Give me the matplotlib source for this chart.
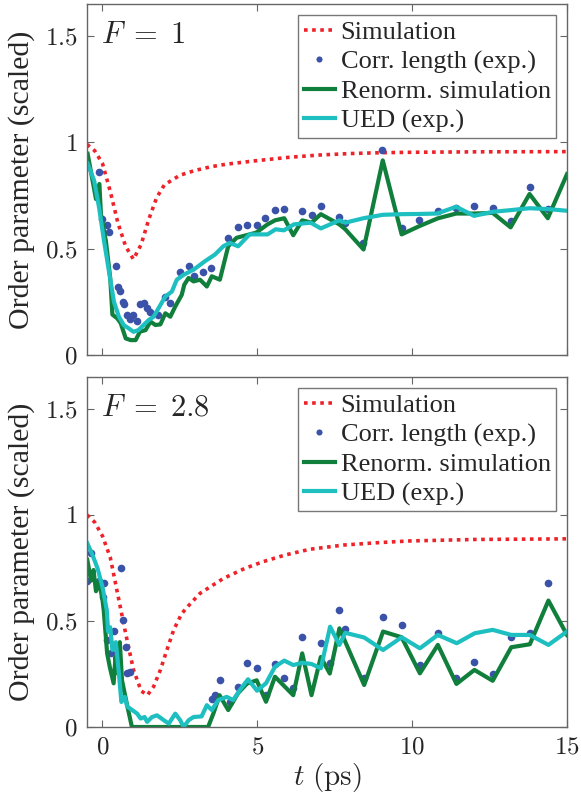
import matplotlib
matplotlib.use("Agg")
import matplotlib.pyplot as plt

plt.rcParams['mathtext.fontset'] = 'cm'
plt.rcParams['font.family'] = ['Liberation Serif', 'DejaVu Serif']

# ---------------- Panel F = 1 ----------------
sim1_t = [-0.5, -0.25, 0.0, 0.25, 0.5, 0.75, 1.0, 1.25, 1.5, 1.75, 2.0, 2.5, 3.0, 3.5, 4.0,
          5.0, 6.0, 7.0, 8.0, 9.0, 10.0, 12.0, 15.0]
sim1_y = [0.99, 0.96, 0.90, 0.77, 0.62, 0.51, 0.45, 0.52, 0.64, 0.74, 0.80, 0.845, 0.868, 0.885,
          0.897, 0.914, 0.929, 0.940, 0.947, 0.951, 0.953, 0.955, 0.956]

corr1_t = [-0.1, 0.0, 0.15, 0.2, 0.44, 0.5, 0.58, 0.65, 0.7, 0.8, 0.88, 0.98, 1.1, 1.2, 1.35,
           1.45, 1.55, 1.78, 2.03, 2.17, 2.49, 2.78, 2.96, 3.24, 3.52, 4.06, 4.38, 4.67,
           4.98, 5.26, 5.57, 5.87, 6.45, 6.75, 7.05, 7.65, 7.84, 8.41, 9.03, 9.68, 10.22,
           10.82, 11.42, 12.0, 12.6, 13.18, 13.79, 14.38]
corr1_y = [0.86, 0.64, 0.61, 0.58, 0.42, 0.32, 0.30, 0.25, 0.24, 0.19, 0.17, 0.19, 0.16, 0.24,
           0.245, 0.22, 0.20, 0.19, 0.275, 0.245, 0.39, 0.42, 0.37, 0.39, 0.41, 0.55, 0.60, 0.61,
           0.611, 0.643, 0.683, 0.687, 0.676, 0.66, 0.70, 0.65, 0.622, 0.525, 0.962, 0.597,
           0.635, 0.675, 0.69, 0.70, 0.692, 0.63, 0.79, 0.685]

ren1_t = [-0.48, -0.21, -0.1, -0.05, 0.11, 0.25, 0.32, 0.48, 0.59, 0.75, 0.91, 1.07, 1.21, 1.39,
          1.55, 1.71, 1.87, 2.03, 2.19, 2.35, 2.56, 2.64, 2.78, 2.94, 3.15, 3.37, 3.53, 3.79,
          4.06, 4.33, 4.75, 4.96, 5.33, 5.57, 5.87, 6.16, 6.45, 6.75, 7.05, 7.65, 7.84, 8.43,
          9.05, 9.66, 10.22, 10.82, 11.42, 12.0, 12.6, 13.18, 13.79, 14.38, 15.0]
ren1_y = [0.946, 0.733, 0.804, 0.662, 0.536, 0.362, 0.19, 0.172, 0.149, 0.078, 0.07, 0.07, 0.11,
          0.117, 0.157, 0.141, 0.144, 0.196, 0.18, 0.228, 0.283, 0.33, 0.362, 0.346, 0.354,
          0.322, 0.37, 0.354, 0.511, 0.551, 0.567, 0.575, 0.614, 0.633, 0.643, 0.563, 0.633,
          0.622, 0.662, 0.614, 0.591, 0.496, 0.915, 0.567, 0.605, 0.642, 0.665, 0.665, 0.668,
          0.60, 0.757, 0.643, 0.85]

ued1_t = [-0.48, -0.27, -0.11, 0.05, 0.21, 0.37, 0.53, 0.69, 0.85, 1.0, 1.16, 1.32, 1.49, 1.65,
          1.81, 2.03, 2.24, 2.4, 2.62, 2.94, 3.31, 3.63, 3.9, 4.11, 4.38, 4.75, 5.01, 5.33,
          5.59, 5.86, 6.18, 6.72, 7.05, 7.65, 7.84, 8.43, 9.05, 9.66, 10.22, 10.81, 11.42,
          12.0, 12.6, 13.18, 13.79, 14.38, 15.0]
ued1_y = [0.90, 0.82, 0.693, 0.536, 0.393, 0.25, 0.18, 0.14, 0.125, 0.109, 0.117, 0.14, 0.164,
          0.18, 0.22, 0.275, 0.298, 0.354, 0.377, 0.401, 0.441, 0.472, 0.511, 0.527, 0.511,
          0.567, 0.567, 0.567, 0.591, 0.586, 0.614, 0.622, 0.595, 0.633, 0.622, 0.643, 0.659,
          0.662, 0.663, 0.665, 0.697, 0.654, 0.673, 0.681, 0.69, 0.686, 0.678]

# ---------------- Panel F = 2.8 ----------------
sim2_t = [-0.5, -0.25, 0.0, 0.25, 0.5, 0.75, 1.0, 1.25, 1.45, 1.65, 1.87, 2.08, 2.3, 2.56,
          2.83, 3.15, 3.47, 3.9, 4.6, 5.2, 5.9, 6.7, 7.8, 8.9, 9.9, 12.0, 15.0]
sim2_y = [1.0, 0.965, 0.90, 0.80, 0.62, 0.44, 0.27, 0.17, 0.15, 0.19, 0.269, 0.363, 0.458,
          0.535, 0.58, 0.63, 0.66, 0.70, 0.748, 0.78, 0.811, 0.838, 0.858, 0.869, 0.877,
          0.884, 0.887]

corr2_t = [-0.49, -0.38, -0.12, 0.02, 0.06, 0.15, 0.29, 0.36, 0.60, 0.66, 0.77, 0.80, 0.90,
           3.53, 3.63, 3.79, 4.11, 4.38, 4.67, 4.98, 5.28, 5.57, 5.87, 6.16, 6.45, 7.05, 7.34,
           7.65, 7.84, 8.43, 9.05, 9.66, 10.25, 10.83, 11.42, 12.0, 12.6, 13.2, 13.8, 14.39]
corr2_y = [0.69, 0.82, 0.69, 0.615, 0.68, 0.41, 0.348, 0.454, 0.748, 0.505, 0.379, 0.253, 0.26,
           0.13, 0.15, 0.22, 0.12, 0.19, 0.30, 0.277, 0.15, 0.296, 0.233, 0.183, 0.423, 0.395,
           0.30, 0.552, 0.46, 0.229, 0.52, 0.481, 0.292, 0.445, 0.233, 0.305, 0.252, 0.426,
           0.445, 0.679]

ren2_t = [-0.49, -0.37, -0.29, -0.21, -0.1, 0.0, 0.04, 0.15, 0.24, 0.36, 0.42, 0.5, 0.56,
          0.63, 0.8, 0.95, 3.41, 3.58, 3.78, 4.06, 4.38, 4.67, 4.98, 5.28, 5.57, 6.16, 6.45,
          6.75, 7.05, 7.34, 7.65, 8.45, 9.06, 9.66, 10.25, 10.83, 11.43, 12.01, 12.6, 13.2,
          13.8, 14.4, 15.0]
ren2_y = [0.788, 0.69, 0.74, 0.64, 0.68, 0.60, 0.55, 0.348, 0.28, 0.206, 0.33, 0.253, 0.40,
          0.22, 0.10, 0.0, 0.0, 0.063, 0.15, 0.08, 0.16, 0.205, 0.22, 0.119, 0.237, 0.15,
          0.347, 0.15, 0.33, 0.252, 0.465, 0.198, 0.45, 0.423, 0.253, 0.387, 0.203, 0.269,
          0.218, 0.376, 0.39, 0.596, 0.434]

ued2_t = [-0.49, -0.32, -0.16, 0.0, 0.14, 0.18, 0.25, 0.32, 0.43, 0.53, 0.61, 0.72, 0.8, 0.96,
          1.12, 1.23, 1.36, 1.44, 1.6, 1.76, 1.98, 2.14, 2.35, 2.51, 2.62, 2.78, 2.94, 3.2,
          3.37, 3.53, 3.74, 4.01, 4.22, 4.43, 4.7, 4.99, 5.28, 5.57, 5.87, 6.16, 6.45, 6.75,
          7.05, 7.35, 7.65, 7.84, 8.45, 9.06, 9.66, 10.25, 10.83, 11.44, 12.02, 12.6, 13.2,
          13.8, 14.4, 15.0]
ued2_y = [0.866, 0.81, 0.748, 0.66, 0.55, 0.45, 0.47, 0.363, 0.40, 0.253, 0.118, 0.142, 0.096,
          0.08, 0.063, 0.04, 0.047, 0.024, 0.047, 0.055, 0.032, 0.016, 0.063, 0.032, 0.0,
          0.032, 0.047, 0.05, 0.103, 0.08, 0.127, 0.142, 0.127, 0.173, 0.225, 0.171, 0.206,
          0.284, 0.313, 0.292, 0.303, 0.297, 0.277, 0.473, 0.387, 0.444, 0.422, 0.363, 0.423,
          0.371, 0.434, 0.395, 0.442, 0.458, 0.434, 0.434, 0.387, 0.45]

panel_labels = [r'$F\;=\;1$', r'$F\;=\;2.8$']
legend_labels = ['Simulation', 'Corr. length (exp.)', 'Renorm. simulation', 'UED (exp.)']
xticks = [0, 5, 10, 15]
xticklabels = [r'$0$', r'$5$', r'$10$', r'$15$']
yticks = [0, 0.5, 1, 1.5]
yticklabels = [r'$0$', r'$0.5$', r'$1$', r'$1.5$']

RED = '#ee2229'
BLUE = '#3a52a8'
GREEN = '#117f3c'
CYAN = '#1ebfc0'
TXT = '#262626'
SPINE = '#666666'

fig = plt.figure(figsize=(5.81, 8.06), dpi=100)
ax1 = fig.add_axes([87/581, 1 - 355/806, 480/581, 351/806])
ax2 = fig.add_axes([87/581, 1 - 727/806, 480/581, 350/806])

panels = [
    (ax1, sim1_t, sim1_y, corr1_t, corr1_y, ren1_t, ren1_y, ued1_t, ued1_y, panel_labels[0]),
    (ax2, sim2_t, sim2_y, corr2_t, corr2_y, ren2_t, ren2_y, ued2_t, ued2_y, panel_labels[1]),
]

for ax, st, sy, ct, cy, rt, ry, ut, uy, lab in panels:
    ax.plot(st, sy, color=RED, lw=2.6, linestyle=(0, (1, 1.25)), label=legend_labels[0])
    ax.plot(ct, cy, 'o', color=BLUE, ms=5.5, mew=0, label=legend_labels[1])
    ax.plot(rt, ry, color=GREEN, lw=3, label=legend_labels[2])
    ax.plot(ut, uy, color=CYAN, lw=3, label=legend_labels[3])
    ax.set_xlim(-0.5, 15)
    ax.set_ylim(0, 1.65)
    ax.set_xticks(xticks)
    ax.set_yticks(yticks)
    ax.set_yticklabels(yticklabels, fontsize=18, color=TXT)
    ax.tick_params(direction='in', length=5, width=0.8, color=SPINE, top=True, right=True,
                   pad=7)
    for sp in ax.spines.values():
        sp.set_color(SPINE)
        sp.set_linewidth(1.0)
    ax.set_ylabel('Order parameter (scaled)', fontsize=21.5, color=TXT, labelpad=7)
    ax.text(0.03, 0.89, lab, transform=ax.transAxes, fontsize=22, color=TXT,
            va='baseline', ha='left')
    leg = ax.legend(loc='upper right', fontsize=19, frameon=True, fancybox=False,
                    handlelength=1.2, handletextpad=0.2, labelspacing=0.22, borderpad=0.2,
                    borderaxespad=0.42, markerscale=0.8)
    leg.get_frame().set_edgecolor('#555555')
    leg.get_frame().set_linewidth(1.0)
    for t in leg.get_texts():
        t.set_color(TXT)

ax1.set_xticklabels([])
ax2.set_xticklabels(xticklabels, fontsize=18, color=TXT)
ax2.set_xlabel(r'$t\ (\mathrm{ps})$', fontsize=21, color=TXT, labelpad=2)

fig.savefig('out.png', dpi=100)
